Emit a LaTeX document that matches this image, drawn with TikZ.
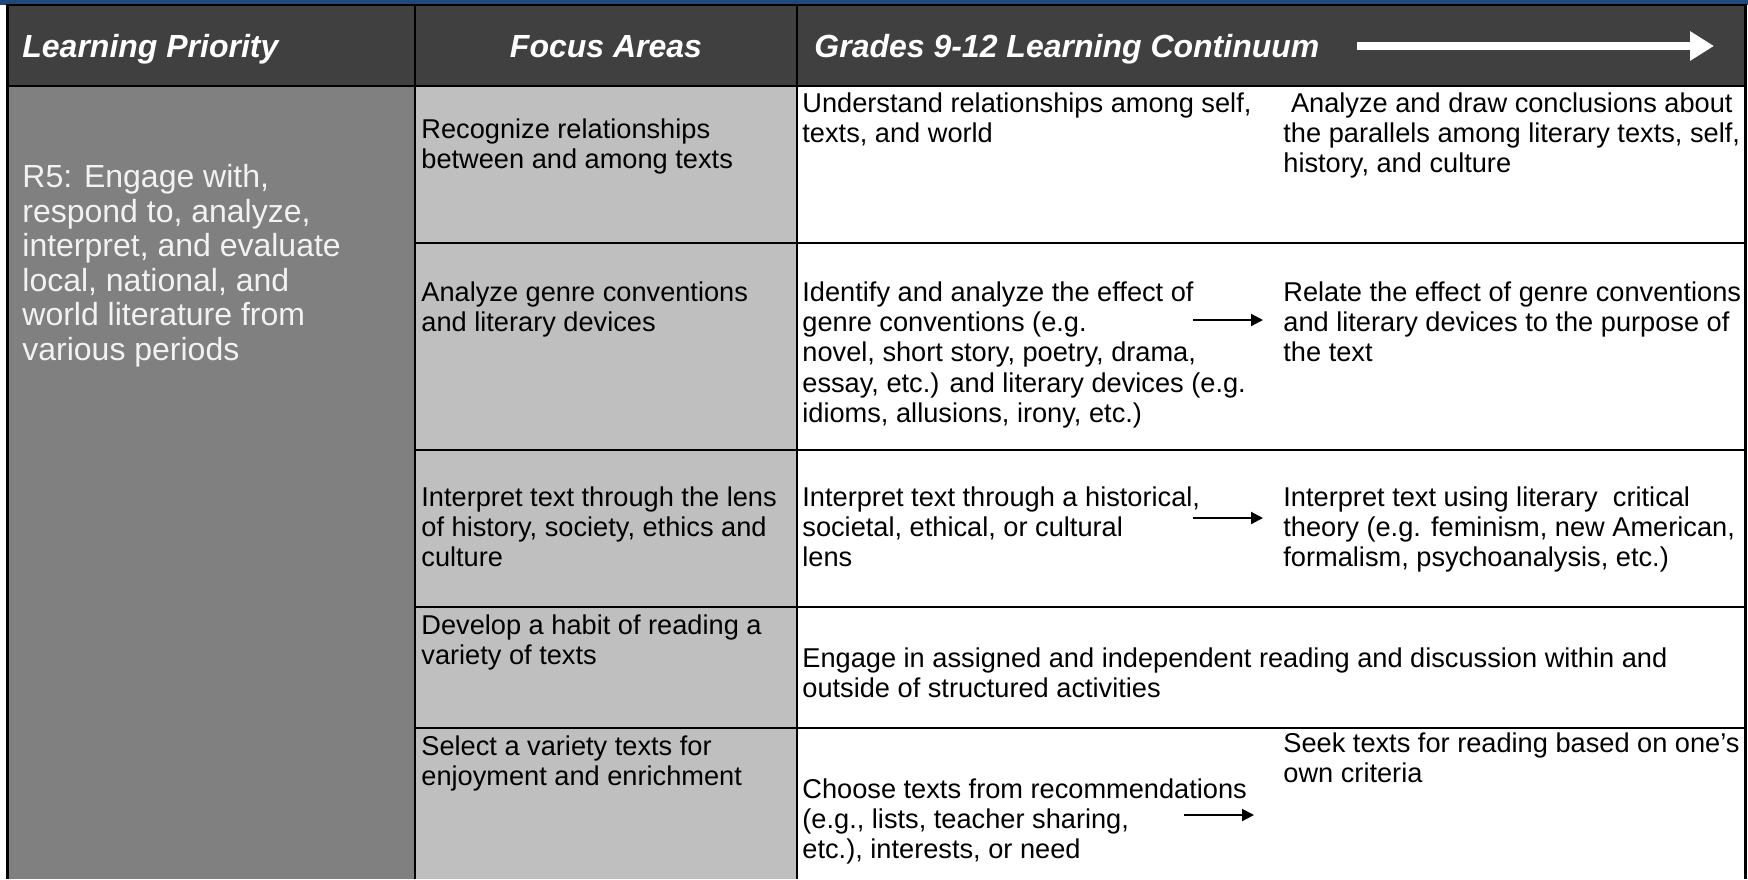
\documentclass[tikz,border=0pt]{standalone}
\usepackage{fontspec}
\setmainfont{Liberation Sans}
\usetikzlibrary{arrows.meta}
\definecolor{bandblue}{RGB}{31,73,125}
\definecolor{headgray}{RGB}{64,64,64}
\definecolor{prigray}{RGB}{128,128,128}
\definecolor{focgray}{RGB}{191,191,191}
\begin{document}
\begin{tikzpicture}[x=0.5pt,y=-0.5pt,line join=round,
  hd/.style={anchor=base west,inner sep=0pt,text=white,font=\fontsize{16}{18}\selectfont\bfseries\itshape},
  cell/.style={anchor=north west,inner sep=0pt,align=left,font=\fontsize{13.6}{15.2}\selectfont},
  prio/.style={anchor=north west,inner sep=0pt,align=left,text={rgb,255:red,242;green,242;blue,242},font=\fontsize{16}{17.25}\selectfont},
  goes/.style={line width=1pt,-{Triangle[length=6pt,width=6pt]}}]
\def\xa{7} \def\xb{415} \def\xc{797} \def\xd{1745}
\useasboundingbox (0,0) rectangle (1748,879);
\fill[bandblue] (0,0) rectangle (1748,5);
\fill[headgray] (\xa,5) rectangle (\xd,86);
\fill[prigray] (\xa,86) rectangle (\xb,879);
\fill[focgray] (\xb,86) rectangle (\xc,879);
\draw[line width=1pt] (\xa,5)--(\xd,5) (\xa,86)--(\xd,86);
\draw[line width=1pt] (\xb,243)--(\xd,243) (\xb,450)--(\xd,450) (\xb,607)--(\xd,607) (\xb,728)--(\xd,728);
\draw[line width=1pt] (\xb,5)--(\xb,879) (\xc,5)--(\xc,879);
\draw[line width=1.5pt] (\xa,4)--(\xa,879) (\xd,4)--(\xd,879);
\node[hd] (hprio) at (22,57) {Learning Priority};
\node[hd,anchor=base] (hfocus) at (606,57) {Focus Areas};
\node[hd] (hcont) at (814,57) {Grades 9-12 Learning Continuum};
\draw[white,line width=4pt,-{Triangle[length=12pt,width=14pt]}] (1357,46)--(1714,46);
\node[prio] (r5) at (22,164) {R5: Engage with,\\respond to, analyze,\\interpret, and evaluate\\local, national, and\\world literature from\\various periods};
\node[cell] (fa1) at (421,118) {Recognize relationships\\between and among texts};
\node[cell] (fa2) at (421,281) {Analyze genre conventions\\and literary devices};
\node[cell] (fa3) at (421,486) {Interpret text through the lens\\of history, society, ethics and\\culture};
\node[cell] (fa4) at (421,614) {Develop a habit of reading a\\variety of texts};
\node[cell] (fa5) at (421,735) {Select a variety texts for\\enjoyment and enrichment};
\node[cell] (lc1a) at (802,92) {Understand relationships among self,\\texts, and world};
\node[cell] (lc1b) at (1283,92) {\hspace*{0.28em}Analyze and draw conclusions about\\the parallels among literary texts, self,\\history, and culture};
\node[cell] (lc2a) at (802,281) {Identify and analyze the effect of\\genre conventions (e.g.\\novel, short story, poetry, drama,\\essay, etc.) and literary devices (e.g.\\idioms, allusions, irony, etc.)};
\node[cell] (lc2b) at (1283,281) {Relate the effect of genre conventions\\and literary devices to the purpose of\\the text};
\node[cell] (lc3a) at (802,486) {Interpret text through a historical,\\societal, ethical, or cultural\\lens};
\node[cell] (lc3b) at (1283,486) {Interpret text using literary\ \ critical\\theory (e.g. feminism, new American,\\formalism, psychoanalysis, etc.)};
\node[cell] (lc4) at (802,647) {Engage in assigned and independent reading and discussion within and\\outside of structured activities};
\node[cell] (lc5a) at (802,778) {Choose texts from recommendations\\(e.g., lists, teacher sharing,\\etc.), interests, or need};
\node[cell] (lc5b) at (1283,732) {Seek texts for reading based on one’s\\own criteria};
\coordinate (s2) at (1193,320); \coordinate (e2) at (1263,320);
\coordinate (s3) at (1193,518); \coordinate (e3) at (1263,518);
\coordinate (s5) at (1184,815); \coordinate (e5) at (1254,815);
\draw[goes] (s2)--(e2);
\draw[goes] (s3)--(e3);
\draw[goes] (s5)--(e5);
\end{tikzpicture}
\end{document}
